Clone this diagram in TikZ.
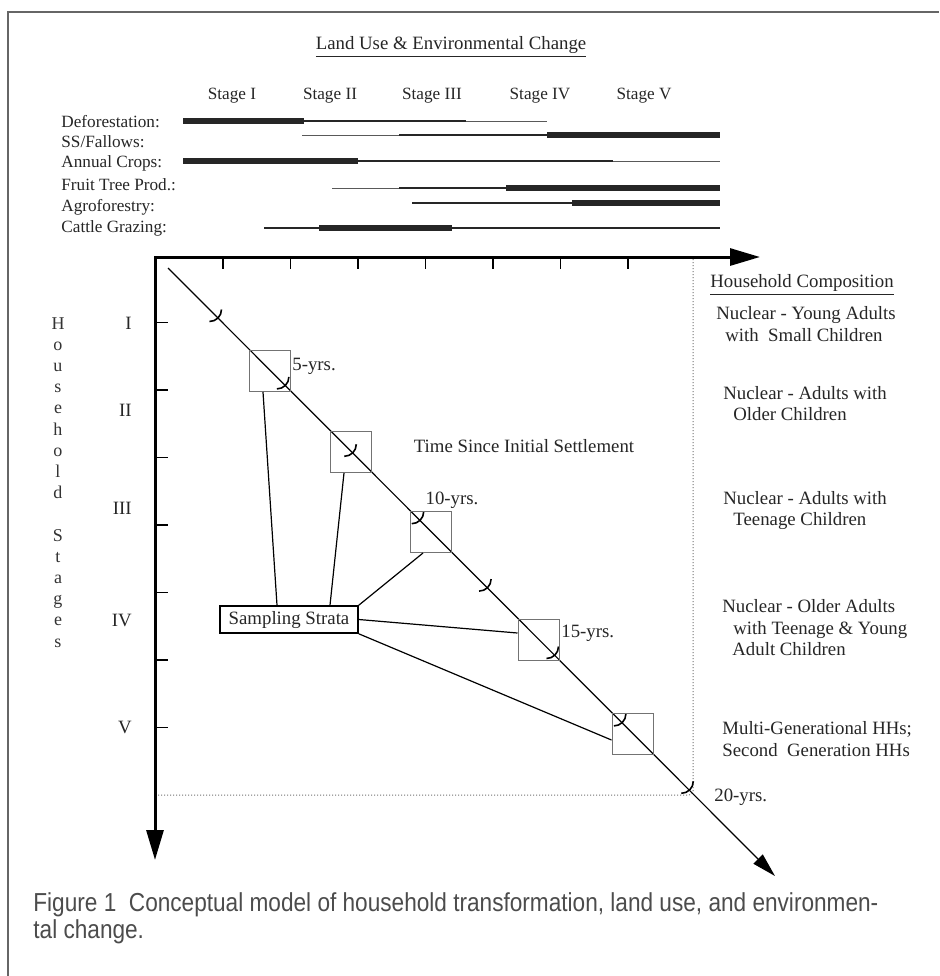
\documentclass[tikz,border=0pt]{standalone}
\usepackage{fontspec}
\setmainfont{Liberation Serif}
\newfontfamily\capfont[FakeStretch=0.87]{Liberation Sans}
\usetikzlibrary{arrows.meta}

\begin{document}
\begin{tikzpicture}[x=0.5pt,y=-0.5pt]
\tikzstyle{toplbl} = [font=\fontsize{8.6}{10}\selectfont, inner sep=0pt, text=black!85]
\tikzstyle{txt} = [font=\fontsize{9.4}{10.75}\selectfont, inner sep=0pt, text=black!85]
\tikzstyle{hhtext} = [txt, align=left, anchor=west]
\tikzstyle{vlabel} = [font=\fontsize{9}{10.6}\selectfont, align=center, inner sep=0pt, text=black!80]
\tikzstyle{sq} = [rectangle, draw=black!55, line width=0.5pt, minimum size=20.5pt, inner sep=0pt]
\tikzstyle{strata} = [rectangle, draw, line width=0.8pt, minimum width=69pt, minimum height=13.5pt, txt]
\tikzstyle{thickbar} = [draw=black!85, line width=3.4pt]
\tikzstyle{medbar} = [draw=black!85, line width=1.4pt]
\tikzstyle{thinbar} = [draw=black!65, line width=0.5pt]
\tikzstyle{axis} = [draw, line width=1.5pt, line cap=rect, -{Triangle[length=15pt,width=8.5pt]}]
\tikzstyle{tick} = [draw, line width=0.8pt]
\tikzstyle{guide} = [draw=black!55, densely dotted, line width=0.5pt]
\tikzstyle{diag} = [draw, line width=0.6pt, -{Triangle[length=12pt,width=6.5pt]}]
\tikzstyle{link} = [draw, line width=0.6pt]
\tikzstyle{arcmark} = [draw, line width=0.8pt]
\tikzstyle{capline} = [font=\capfont\fontsize{13}{15}\selectfont, text=black!70, anchor=west, inner sep=0pt]

\fill[white] (0,0) rectangle (939,976);
\useasboundingbox (0,0) rectangle (939,976);
% frame
\draw[black!60, line width=0.6pt] (8,976) -- (8,12) -- (939,12);

% land use chart
\node[txt] (title) at (451,47) {\underline{Land Use \& Environmental Change}};
\node[toplbl] (st1) at (232,96) {Stage I};
\node[toplbl] (st2) at (330,96) {Stage II};
\node[toplbl] (st3) at (432,96) {Stage III};
\node[toplbl] (st4) at (540,96) {Stage IV};
\node[toplbl] (st5) at (644,96) {Stage V};
\node[toplbl, anchor=west] (defor) at (61,122) {Deforestation:};
\node[toplbl, anchor=west] (fallow) at (61,142) {SS/Fallows:};
\node[toplbl, anchor=west] (crops) at (61,163) {Annual Crops:};
\node[toplbl, anchor=west] (fruit) at (61,185) {Fruit Tree Prod.:};
\node[toplbl, anchor=west] (agro) at (61,207) {Agroforestry:};
\node[toplbl, anchor=west] (cattle) at (61,228) {Cattle Grazing:};
% bars
\draw[thickbar] (183,121) -- (304,121);
\draw[medbar] (304,121) -- (466,121);
\draw[thinbar] (466,121) -- (547,121);
\draw[thinbar] (302,135) -- (399,135);
\draw[medbar] (399,135) -- (547,135);
\draw[thickbar] (547,135) -- (720,135);
\draw[thickbar] (183,161) -- (358,161);
\draw[medbar] (358,161) -- (519,161);
\draw[medbar, line width=0.9pt] (519,161) -- (613,161);
\draw[thinbar] (613,161) -- (720,161);
\draw[thinbar] (332,188) -- (399,188);
\draw[medbar] (399,188) -- (506,188);
\draw[thickbar] (506,188) -- (720,188);
\draw[medbar] (412,203) -- (572,203);
\draw[thickbar] (572,203) -- (720,203);
\draw[medbar] (264,228) -- (319,228);
\draw[thickbar] (319,228) -- (452,228);
\draw[medbar] (452,228) -- (720,228);

% axes
\coordinate (origin) at (155,257);
\coordinate (xtip) at (760,257);
\coordinate (ytip) at (155,860);
\draw[guide, rounded corners=2pt] (693,259) -- (693,795) -- (157,795);
\draw[axis] (origin) -- (xtip);
\draw[axis] (origin) -- (ytip);
\foreach \k in {0,...,6} {
  \draw[tick] (223+67.5*\k,257) -- (223+67.5*\k,269);
  \draw[tick] (155,322.5+67.5*\k) -- (168,322.5+67.5*\k);
}

% household stages
\node[vlabel, anchor=north] (hhstages) at (58,317) {H\\o\\u\\s\\e\\h\\o\\l\\d\\[10.6pt]S\\t\\a\\g\\e\\s};
\node[txt, anchor=east] (hs1) at (132,323) {I};
\node[txt, anchor=east] (hs2) at (132,410) {II};
\node[txt, anchor=east] (hs3) at (132,508) {III};
\node[txt, anchor=east] (hs4) at (132,620) {IV};
\node[txt, anchor=east] (hs5) at (132,727) {V};

% time since settlement
\coordinate (dstart) at (168,268);
\coordinate (dend) at (775,876);
\draw[diag] (dstart) -- (dend);
\foreach \k in {0,...,7}
  \draw[arcmark] (221.5+67.4*\k,309.5+67.4*\k) arc[start angle=0,end angle=90,radius=12];
\node[sq] (s1) at (270,371) {};
\node[sq] (s2) at (351,452) {};
\node[sq] (s3) at (431,532) {};
\node[sq] (s4) at (538.5,639.5) {};
\node[sq] (s5) at (632.5,733.5) {};
\node[txt, anchor=west] (y5) at (292,366) {5-yrs.};
\node[txt] (y10) at (452,500) {10-yrs.};
\node[txt, anchor=west] (y15) at (561,633) {15-yrs.};
\node[txt, anchor=west] (y20) at (714,797) {20-yrs.};
\node[txt] (tsis) at (524,446) {Time Since Initial Settlement};
\node[strata] (strata) at (289,619.5) {Sampling Strata};
\draw[link] ([xshift=-6pt]strata.north) -- ([xshift=-3.5pt]s1.south);
\draw[link] ([xshift=20.5pt]strata.north) -- ([xshift=-3.5pt]s2.south);
\draw[link] (strata.north east) -- ([xshift=-4pt]s3.south);
\draw[link] (strata.east) -- ([yshift=3.25pt]s4.west);
\draw[link] (strata.south east) -- ([yshift=-3.25pt]s5.west);

% household composition
\node[txt, anchor=west] (hhc) at (710,285) {\underline{Household Composition}};
\node[hhtext] (c1) at (716,324) {Nuclear - Young Adults\\\hspace*{4.5pt}with\ \ Small Children};
\node[hhtext] (c2) at (723,403.5) {Nuclear - Adults with\\\hspace*{5pt}Older Children};
\node[hhtext] (c3) at (723,510.5) {Nuclear - Adults with\\\hspace*{5pt}Teenage Children};
\node[hhtext] (c4) at (722,628) {Nuclear - Older Adults\\\hspace*{5.5pt}with Teenage \& Young\\\hspace*{5pt}Adult Children};
\node[hhtext] (c5) at (722,739) {Multi-Generational HHs;\\Second\ \ Generation HHs};

% caption
\node[capline] (cap1) at (33,905) {Figure 1\ \ Conceptual model of household transformation, land use, and environmen-};
\node[capline] (cap2) at (33,932) {tal change.};
\end{tikzpicture}
\end{document}
